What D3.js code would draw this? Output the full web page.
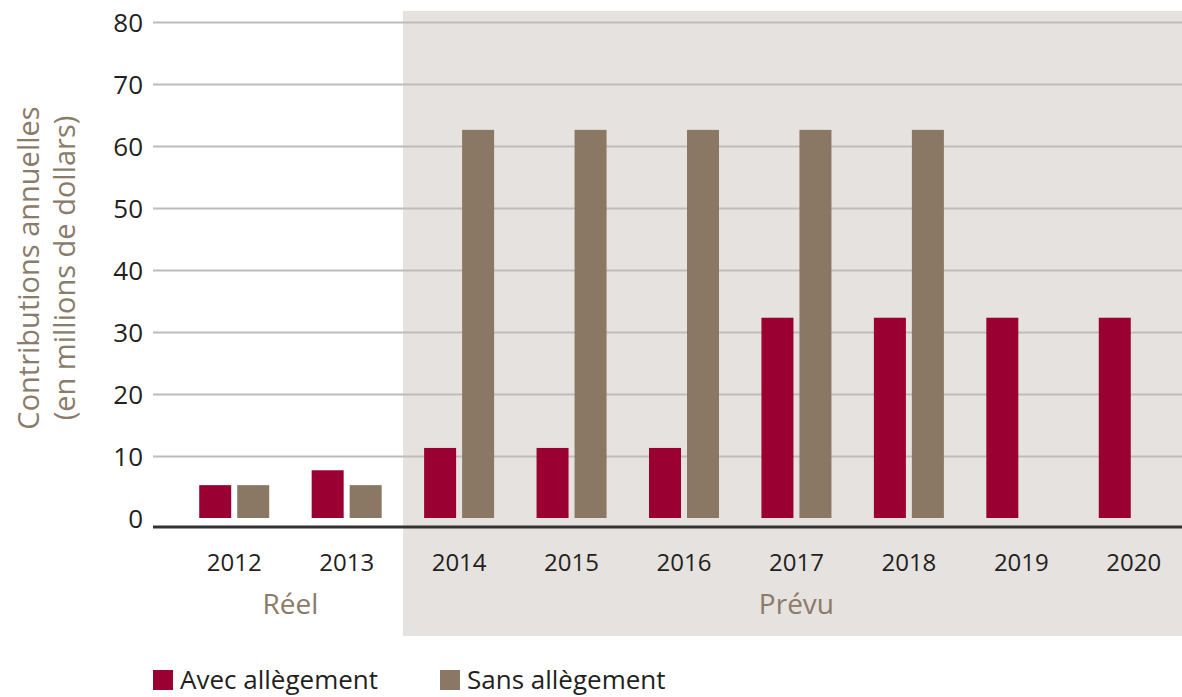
<!DOCTYPE html>
<html>
<head>
<meta charset="utf-8">
<script src="https://cdn.jsdelivr.net/npm/d3@7"></script>
<style>
    body { margin: 0; background: #fff; }
    svg { display: block; font-family: "Open Sans", sans-serif; }
</style>
</head>
<body>
<div id="chart"></div>
<script>

// data
let years = ["2012", "2013", "2014", "2015", "2016", "2017", "2018", "2019", "2020"];
let avecValues = [5.3, 7.7, 11.3, 11.3, 11.3, 32.3, 32.3, 32.3, 32.3];
let sansValues = [5.3, 5.3, 62.6, 62.6, 62.6, 62.6, 62.6, null, null];
let yTicks = [0, 10, 20, 30, 40, 50, 60, 70, 80];
let seriesNames = ["Avec allègement", "Sans allègement"];
let periods = [
    {label: "Réel", from: "2012", to: "2013"},
    {label: "Prévu", from: "2014", to: "2020"}
];

let colors = {avec: "#9b0032", sans: "#8a7864", shade: "#e6e2df", title: "#8b7b69", text: "#231f20"};
let font = '"Open Sans", sans-serif';

let width = 1182, height = 697;
let margin = {top: 22, left: 153, right: 0, bottom: 179};

let svg = d3.select("#chart").append("svg")
    .attr("width", width)
    .attr("height", height);

// scales
let x = d3.scaleBand()
    .domain(years)
    .range([178, 1190])
    .padding(0);

let y = d3.scaleLinear()
    .domain([0, 80])
    .range([518, 22]);

let sub = d3.scaleBand()
    .domain(["avec", "sans"])
    .range([-35, 35])
    .paddingInner(6 / 38)
    .paddingOuter(0);

// shaded forecast area
svg.append("rect")
    .attr("x", 403)
    .attr("y", 11)
    .attr("width", width - 403)
    .attr("height", 625)
    .attr("fill", colors.shade);

// grid lines + y labels
let yAxis = d3.axisLeft(y)
    .tickValues(yTicks)
    .tickSize(-(width - margin.left))
    .tickPadding(10);

svg.append("g")
    .attr("class", "y-axis")
    .attr("transform", `translate(${margin.left}, 0)`)
    .call(yAxis)
    .attr("font-family", font)
    .call(g => g.select(".domain").remove())
    .call(g => g.selectAll(".tick line")
        .attr("stroke", "#bdbbbb")
        .attr("stroke-width", 2)
        .attr("display", d => d === 0 ? "none" : null))
    .call(g => g.selectAll(".tick text")
        .attr("fill", colors.text)
        .attr("font-size", 26)
        .attr("x", -10)
        .attr("dy", "0.35em"));

// bars
let rows = years.map((yr, i) => ({year: yr, avec: avecValues[i], sans: sansValues[i]}));

let barG = svg.append("g").attr("class", "bars");

["avec", "sans"].forEach(key => {
    barG.selectAll("rect." + key)
        .data(rows.filter(d => d[key] != null))
        .join("rect")
        .attr("class", key)
        .attr("x", d => x(d.year) + x.bandwidth() / 2 + sub(key))
        .attr("width", sub.bandwidth())
        .attr("y", d => y(d[key]))
        .attr("height", d => y(0) - y(d[key]))
        .attr("fill", colors[key]);
});

// baseline
svg.append("line")
    .attr("x1", margin.left)
    .attr("x2", width)
    .attr("y1", 527)
    .attr("y2", 527)
    .attr("stroke", "#333")
    .attr("stroke-width", 3);

// x labels
let xAxis = d3.axisBottom(x).tickSize(0).tickPadding(0);
svg.append("g")
    .attr("class", "x-axis")
    .attr("transform", `translate(0, 563)`)
    .call(xAxis)
    .attr("font-family", font)
    .call(g => g.select(".domain").remove())
    .call(g => g.selectAll(".tick text")
        .attr("fill", colors.text)
        .attr("font-size", 24)
        .attr("y", 0)
        .attr("dy", "0.35em"));

// period labels
svg.append("g")
    .selectAll("text")
    .data(periods)
    .join("text")
    .attr("x", d => (x(d.from) + x(d.to) + x.bandwidth()) / 2)
    .attr("y", 604)
    .attr("dy", "0.35em")
    .attr("text-anchor", "middle")
    .attr("fill", colors.title)
    .attr("font-size", 28)
    .text(d => d.label);

// y title
let yTitle = svg.append("text")
    .attr("transform", "translate(0, 268) rotate(-90)")
    .attr("text-anchor", "middle")
    .attr("fill", colors.title)
    .attr("font-size", 29);

yTitle.append("tspan").attr("x", 0).attr("y", 39).text("Contributions annuelles");
yTitle.append("tspan").attr("x", 0).attr("y", 75).text("(en millions de dollars)");

// legend
let legend = svg.append("g")
    .selectAll("g")
    .data(seriesNames)
    .join("g")
    .attr("transform", (d, i) => `translate(${153 + i * 287}, 670)`);

legend.append("rect")
    .attr("width", 20)
    .attr("height", 20)
    .attr("fill", (d, i) => i === 0 ? colors.avec : colors.sans);

legend.append("text")
    .attr("x", 27)
    .attr("y", 10)
    .attr("dy", "0.35em")
    .attr("fill", colors.text)
    .attr("font-size", 26)
    .text(d => d);

</script>
</body>
</html>
